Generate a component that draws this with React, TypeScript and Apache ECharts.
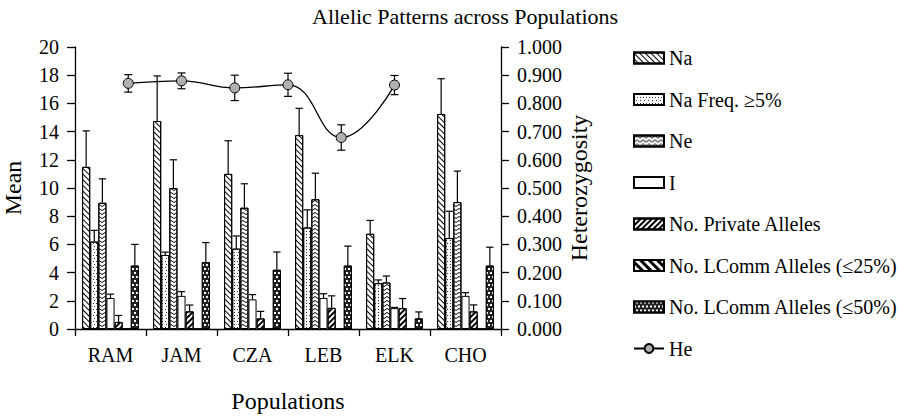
import React, { useEffect, useRef } from "react";
import * as echarts from "echarts";

const categories = ["RAM", "JAM", "CZA", "LEB", "ELK", "CHO"];
const naMean = [11.5, 14.75, 11.0, 13.75, 6.75, 15.25];
const naErr = [2.55, 3.2, 2.35, 1.9, 0.95, 2.5];
const naFreqMean = [6.2, 5.25, 5.7, 7.2, 3.25, 6.45];
const naFreqErr = [0.8, 0.2, 0.9, 1.25, 0.23, 1.9];
const neMean = [8.95, 10.0, 8.6, 9.2, 3.3, 9.0];
const neErr = [1.7, 2.0, 1.7, 1.85, 0.46, 2.2];
const iMean = [2.2, 2.35, 2.1, 2.2, 1.48, 2.35];
const iErr = [0.27, 0.3, 0.34, 0.3, 0.05, 0.23];
const privMean = [0.5, 1.25, 0.75, 1.5, 1.48, 1.25];
const privErr = [0.46, 0.45, 0.5, 0.85, 0.68, 0.46];
const lc25Mean = [0, 0, 0, 0, 0, 0];
const lc25Err = [0, 0, 0, 0, 0, 0];
const lc50Mean = [4.5, 4.75, 4.2, 4.5, 0.75, 4.5];
const lc50Err = [1.5, 1.38, 1.26, 1.38, 0.46, 1.3];
const heMean = [0.871, 0.88, 0.855, 0.866, 0.679, 0.865];
const heErr = [0.031, 0.028, 0.045, 0.041, 0.045, 0.034];

const leftTicks = [0, 20, 2];
const rightTicks = [0, 1, 0.1];

const FONT = "'Liberation Serif', 'Times New Roman', serif";

const barNames = [
  "Na",
  "Na Freq. \u22655%",
  "Ne",
  "I",
  "No. Private Alleles",
  "No. LComm Alleles (\u226425%)",
  "No. LComm Alleles (\u226450%)",
];
const barMeans = [naMean, naFreqMean, neMean, iMean, privMean, lc25Mean, lc50Mean];
const barErrs = [naErr, naFreqErr, neErr, iErr, privErr, lc25Err, lc50Err];

const decals: any[] = [
  { symbol: "rect", symbolSize: 1, dashArrayX: [1, 0], dashArrayY: [1, 2.2], rotation: Math.PI / 4, color: "#000" },
  { symbol: "rect", symbolSize: 1, dashArrayX: [[1, 2], [0, 1.5, 1, 0.5]], dashArrayY: [1, 1.5], rotation: 0, color: "#333" },
  { symbol: "path://M0,2L3,0L6,2L6,3L3,1L0,3Z", symbolSize: 1, dashArrayX: [6, 0], dashArrayY: [3, 1], rotation: 0, color: "#000" },
  null,
  { symbol: "rect", symbolSize: 1, dashArrayX: [1, 0], dashArrayY: [1.5, 2], rotation: -Math.PI / 4, color: "#000" },
  { symbol: "rect", symbolSize: 1, dashArrayX: [1, 0], dashArrayY: [2.5, 2.5], rotation: Math.PI / 4, color: "#000" },
  { symbol: "rect", symbolSize: 1, dashArrayX: [[2, 1.5], [0, 1.75, 2, 0]], dashArrayY: [2, 1.5], rotation: 0, color: "#fff" },
];
const fills = ["#fff", "#fff", "#fff", "#fff", "#fff", "#fff", "#222"];

export default function App() {
  const ref = useRef<HTMLDivElement>(null);
  useEffect(() => {
    if (!ref.current) return;
    const chart = echarts.init(ref.current, null, { renderer: "svg" });
    const nBars = barNames.length;

    const barSeries = barNames.map((name, k) => ({
      name,
      type: "bar",
      xAxisIndex: 0,
      yAxisIndex: 0,
      barGap: "0%",
      barCategoryGap: "20%",
      data: barMeans[k],
      itemStyle: {
        color: fills[k],
        borderColor: "#000",
        borderWidth: 1,
        ...(decals[k] ? { decal: decals[k] } : {}),
      },
      z: 2,
    }));

    const errSeries = barNames.map((name, k) => ({
      name: name + " err",
      type: "custom",
      xAxisIndex: 0,
      yAxisIndex: 0,
      z: 4,
      encode: { x: 0, y: 1 },
      data: categories.map((c, i) => [i, barMeans[k][i], barErrs[k][i]]),
      renderItem: (params: any, api: any) => {
        const ci = api.value(0);
        const v = api.value(1);
        const e = api.value(2);
        if (!(e > 0)) return { type: "group", children: [] };
        const base = api.coord([ci, v]);
        const top = api.coord([ci, v + e]);
        const band = api.size([1, 0])[0];
        const bw = (band * 0.8) / nBars;
        const x = base[0] + (k - (nBars - 1) / 2) * bw;
        const half = bw * 0.45;
        const st = { stroke: "#000", lineWidth: 1.2 };
        return {
          type: "group",
          children: [
            { type: "line", shape: { x1: x, y1: base[1], x2: x, y2: top[1] }, style: st },
            { type: "line", shape: { x1: x - half, y1: top[1], x2: x + half, y2: top[1] }, style: st },
          ],
        };
      },
    }));

    const heErrSeries = {
      name: "He err",
      type: "custom",
      xAxisIndex: 1,
      yAxisIndex: 1,
      z: 5,
      encode: { x: 0, y: 1 },
      data: categories.map((c, i) => [i + 1, heMean[i], heErr[i]]),
      renderItem: (params: any, api: any) => {
        const xi = api.value(0);
        const v = api.value(1);
        const e = api.value(2);
        const top = api.coord([xi, v + e]);
        const bot = api.coord([xi, v - e]);
        const half = 4;
        const st = { stroke: "#000", lineWidth: 1.2 };
        return {
          type: "group",
          children: [
            { type: "line", shape: { x1: top[0], y1: top[1], x2: bot[0], y2: bot[1] }, style: st },
            { type: "line", shape: { x1: top[0] - half, y1: top[1], x2: top[0] + half, y2: top[1] }, style: st },
            { type: "line", shape: { x1: bot[0] - half, y1: bot[1], x2: bot[0] + half, y2: bot[1] }, style: st },
          ],
        };
      },
    };

    const heSeries = {
      name: "He",
      type: "line",
      xAxisIndex: 1,
      yAxisIndex: 1,
      smooth: 0.45,
      z: 6,
      symbol: "circle",
      symbolSize: 10,
      data: categories.map((c, i) => [i + 1, heMean[i]]),
      lineStyle: { color: "#000", width: 1.3 },
      itemStyle: { color: "#b0b0b0", borderColor: "#000", borderWidth: 1 },
    };

    const labelStyle = { color: "#000", fontFamily: FONT, fontSize: 20 };
    const nameStyle = { color: "#000", fontFamily: FONT, fontSize: 24 };
    const axLine = { show: true, lineStyle: { color: "#000", width: 1.3 } };

    chart.setOption({
      animation: false,
      backgroundColor: "#fff",
      textStyle: { fontFamily: FONT },
      title: {
        text: "Allelic Patterns across Populations",
        left: 307,
        top: 0,
        textStyle: { color: "#000", fontFamily: FONT, fontSize: 22, fontWeight: "normal" },
      },
      legend: {
        orient: "vertical",
        left: 628,
        top: 43,
        itemWidth: 30,
        itemHeight: 11,
        itemGap: 21.5,
        textStyle: { color: "#000", fontFamily: FONT, fontSize: 20 },
        data: [
          ...barNames.map((n) => ({ name: n, icon: "rect" })),
          { name: "He" },
        ],
      },
      grid: { left: 75, right: 397, top: 47, bottom: 81, containLabel: false },
      xAxis: [
        {
          type: "category",
          data: categories,
          boundaryGap: true,
          axisLine: axLine,
          axisTick: { show: true, inside: false, length: 7, lineStyle: { color: "#000", width: 1.3 } },
          axisLabel: { ...labelStyle, margin: 16 },
          name: "Populations",
          nameLocation: "middle",
          nameGap: 60,
          nameTextStyle: nameStyle,
        },
        { type: "value", min: 0, max: 8, show: false },
      ],
      yAxis: [
        {
          type: "value",
          min: leftTicks[0],
          max: leftTicks[1],
          interval: leftTicks[2],
          axisLine: axLine,
          axisTick: { show: true, inside: false, length: 8, lineStyle: { color: "#000", width: 1.3 } },
          axisLabel: { ...labelStyle, margin: 16 },
          splitLine: { show: false },
          name: "Mean",
          nameLocation: "middle",
          nameGap: 50,
          nameRotate: 90,
          nameTextStyle: nameStyle,
        },
        {
          type: "value",
          position: "right",
          min: rightTicks[0],
          max: rightTicks[1],
          interval: rightTicks[2],
          axisLine: axLine,
          axisTick: { show: true, inside: false, length: 8, lineStyle: { color: "#000", width: 1.3 } },
          axisLabel: { ...labelStyle, margin: 16, formatter: (v: number) => v.toFixed(3) },
          splitLine: { show: false },
          name: "Heterozygosity",
          nameLocation: "middle",
          nameGap: 66,
          nameRotate: 90,
          nameTextStyle: nameStyle,
        },
      ],
      series: [...barSeries, ...errSeries, heErrSeries, heSeries],
    });
    return () => chart.dispose();
  }, []);
  return (
    <div
      ref={ref}
      style={{ position: "fixed", left: 0, top: 0, width: 898, height: 418, background: "#fff" }}
    />
  );
}
